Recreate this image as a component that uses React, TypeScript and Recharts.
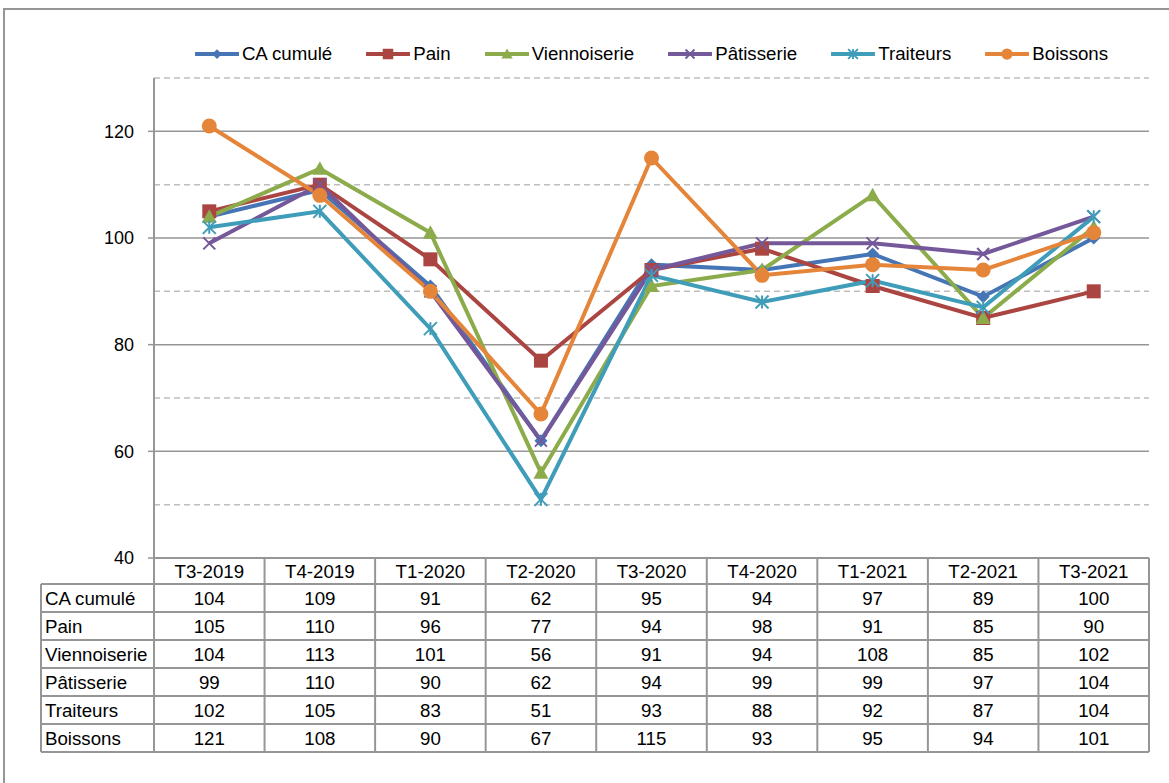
import React from "react";
import { LineChart, Line, XAxis, YAxis, ReferenceLine } from "recharts";

// ─── DATA ──────────────────────────────────────────────────────────────────
const quarters = [
  "T3-2019",
  "T4-2019",
  "T1-2020",
  "T2-2020",
  "T3-2020",
  "T4-2020",
  "T1-2021",
  "T2-2021",
  "T3-2021",
];

const caCumule = [104, 109, 91, 62, 95, 94, 97, 89, 100];
const pain = [105, 110, 96, 77, 94, 98, 91, 85, 90];
const viennoiserie = [104, 113, 101, 56, 91, 94, 108, 85, 102];
const patisserie = [99, 110, 90, 62, 94, 99, 99, 97, 104];
const traiteurs = [102, 105, 83, 51, 93, 88, 92, 87, 104];
const boissons = [121, 108, 90, 67, 115, 93, 95, 94, 101];

const yTicks = [40, 60, 80, 100, 120];
const solidGrid = [60, 80, 100, 120];
const dashedGrid = [50, 70, 90, 110, 130];

// ─── STYLE ─────────────────────────────────────────────────────────────────
const FONT = "'Liberation Sans', Arial, sans-serif";
const W = 1169;
const H = 783;
const PLOT_LEFT = 154;
const PLOT_RIGHT = 1149;
const PLOT_TOP = 78;
const PLOT_BOTTOM = 558;
const TABLE_LEFT = 41;
const HEADER_BOTTOM = 584;
const ROW_H = 28;
const GRID = "#969696";

type Shape = "diamond" | "square" | "triangle" | "x" | "star" | "circle";

const series: { key: string; name: string; values: number[]; color: string; shape: Shape }[] = [
  { key: "ca", name: "CA cumulé", values: caCumule, color: "#4675b6", shape: "diamond" },
  { key: "pain", name: "Pain", values: pain, color: "#ab4542", shape: "square" },
  { key: "vien", name: "Viennoiserie", values: viennoiserie, color: "#8cab4b", shape: "triangle" },
  { key: "pat", name: "Pâtisserie", values: patisserie, color: "#74589a", shape: "x" },
  { key: "trait", name: "Traiteurs", values: traiteurs, color: "#3f9db9", shape: "star" },
  { key: "boi", name: "Boissons", values: boissons, color: "#e5853a", shape: "circle" },
];

const chartData = quarters.map((q, i) => {
  const row: Record<string, string | number> = { q };
  series.forEach((s) => (row[s.key] = s.values[i]));
  return row;
});

// ─── MARKERS ───────────────────────────────────────────────────────────────
const Marker = ({ cx, cy, shape, color, k = 1 }: any) => {
  if (cx == null || cy == null) return null;
  switch (shape) {
    case "diamond": {
      const r = 6.5 * k;
      return <polygon points={`${cx},${cy - r} ${cx + r},${cy} ${cx},${cy + r} ${cx - r},${cy}`} fill={color} />;
    }
    case "square": {
      const r = 7 * k;
      return <rect x={cx - r} y={cy - r} width={2 * r} height={2 * r} fill={color} />;
    }
    case "triangle": {
      const r = 7.5 * k;
      return <polygon points={`${cx},${cy - r} ${cx + r},${cy + r * 0.8} ${cx - r},${cy + r * 0.8}`} fill={color} />;
    }
    case "x": {
      const r = 6 * k;
      return (
        <g stroke={color} strokeWidth={2}>
          <line x1={cx - r} y1={cy - r} x2={cx + r} y2={cy + r} />
          <line x1={cx - r} y1={cy + r} x2={cx + r} y2={cy - r} />
        </g>
      );
    }
    case "star": {
      const r = 6.5 * k;
      return (
        <g stroke={color} strokeWidth={2}>
          <line x1={cx - r} y1={cy - r} x2={cx + r} y2={cy + r} />
          <line x1={cx - r} y1={cy + r} x2={cx + r} y2={cy - r} />
          <line x1={cx} y1={cy - r} x2={cx} y2={cy + r} />
        </g>
      );
    }
    default:
      return <circle cx={cx} cy={cy} r={7.5 * k} fill={color} />;
  }
};

// ─── LEGEND ────────────────────────────────────────────────────────────────
const TopLegend = () => (
  <div
    style={{
      position: "absolute",
      left: PLOT_LEFT,
      width: PLOT_RIGHT - PLOT_LEFT,
      top: 41,
      height: 26,
      display: "flex",
      justifyContent: "center",
      alignItems: "center",
      gap: 34,
      fontFamily: FONT,
      fontSize: 18.7,
      color: "#000",
    }}
  >
    {series.map((s) => (
      <div key={s.key} style={{ display: "flex", alignItems: "center" }}>
        <svg width={44} height={20} style={{ marginRight: 3 }}>
          <line x1={1} y1={10} x2={43} y2={10} stroke={s.color} strokeWidth={4} strokeLinecap="round" />
          <Marker cx={22} cy={10} shape={s.shape} color={s.color} k={0.75} />
        </svg>
        <span>{s.name}</span>
      </div>
    ))}
  </div>
);

// ─── DATA TABLE ────────────────────────────────────────────────────────────
const DataTable = () => {
  const colW = (PLOT_RIGHT - PLOT_LEFT) / quarters.length;
  const tableBottom = HEADER_BOTTOM + ROW_H * series.length;
  return (
    <svg width={W} height={H} style={{ position: "absolute", left: 0, top: 0, pointerEvents: "none" }}>
      <g stroke={GRID} strokeWidth={2}>
        <line x1={PLOT_LEFT} y1={PLOT_BOTTOM} x2={PLOT_RIGHT} y2={PLOT_BOTTOM} />
        {series.map((_, i) => (
          <line key={i} x1={TABLE_LEFT} y1={HEADER_BOTTOM + ROW_H * i} x2={PLOT_RIGHT} y2={HEADER_BOTTOM + ROW_H * i} />
        ))}
        <line x1={TABLE_LEFT} y1={tableBottom} x2={PLOT_RIGHT} y2={tableBottom} />
        <line x1={TABLE_LEFT} y1={HEADER_BOTTOM} x2={TABLE_LEFT} y2={tableBottom} />
        {[...quarters, ""].map((_, i) => (
          <line key={i} x1={PLOT_LEFT + colW * i} y1={PLOT_BOTTOM} x2={PLOT_LEFT + colW * i} y2={tableBottom} />
        ))}
      </g>
      <g fontFamily={FONT} fontSize={18.7} fill="#000">
        {quarters.map((q, i) => (
          <text key={q} x={PLOT_LEFT + colW * (i + 0.5)} y={(PLOT_BOTTOM + HEADER_BOTTOM) / 2 + 7} textAnchor="middle">
            {q}
          </text>
        ))}
        {series.map((s, r) => (
          <g key={s.key}>
            <text x={TABLE_LEFT + 4} y={HEADER_BOTTOM + ROW_H * (r + 0.5) + 7}>
              {s.name}
            </text>
            {s.values.map((v, i) => (
              <text key={i} x={PLOT_LEFT + colW * (i + 0.5)} y={HEADER_BOTTOM + ROW_H * (r + 0.5) + 7} textAnchor="middle">
                {v}
              </text>
            ))}
          </g>
        ))}
      </g>
    </svg>
  );
};

// ─── MAIN COMPONENT ────────────────────────────────────────────────────────
export default function App() {
  const colW = (PLOT_RIGHT - PLOT_LEFT) / quarters.length;
  return (
    <div style={{ position: "absolute", left: 0, top: 0, width: W, height: H, overflow: "hidden", background: "#fff" }}>
      {/* outer chart frame, runs off the right and bottom edges */}
      <div
        style={{
          position: "absolute",
          left: 3,
          top: 8,
          width: W + 40,
          height: H + 40,
          borderTop: `2px solid ${GRID}`,
          borderLeft: `2px solid ${GRID}`,
          boxSizing: "border-box",
        }}
      />
      <div style={{ position: "absolute", left: 0, top: 0 }}>
        <LineChart
          width={W}
          height={H}
          data={chartData}
          margin={{ top: PLOT_TOP, right: W - PLOT_RIGHT, bottom: H - PLOT_BOTTOM, left: 0 }}
        >
          {dashedGrid.map((v) => (
            <ReferenceLine key={`d${v}`} y={v} stroke="#bdbdbd" strokeWidth={1.5} strokeDasharray="6 4" />
          ))}
          {solidGrid.map((v) => (
            <ReferenceLine key={`s${v}`} y={v} stroke={GRID} strokeWidth={1.5} />
          ))}
          <XAxis dataKey="q" hide padding={{ left: colW / 2, right: colW / 2 }} />
          <YAxis
            width={PLOT_LEFT}
            domain={[40, 130]}
            ticks={yTicks}
            allowDataOverflow
            axisLine={{ stroke: GRID, strokeWidth: 2 }}
            tickLine={{ stroke: GRID, strokeWidth: 1.5 }}
            tickSize={6}
            tickMargin={14}
            tick={{ fontFamily: FONT, fontSize: 18, fill: "#000" }}
          />
          {series.map((s) => (
            <Line
              key={s.key}
              type="linear"
              dataKey={s.key}
              name={s.name}
              stroke={s.color}
              strokeWidth={4}
              dot={(p: any) => <Marker key={`${s.key}-${p.index}`} cx={p.cx} cy={p.cy} shape={s.shape} color={s.color} />}
              activeDot={false}
              isAnimationActive={false}
            />
          ))}
        </LineChart>
      </div>
      <TopLegend />
      <DataTable />
    </div>
  );
}
